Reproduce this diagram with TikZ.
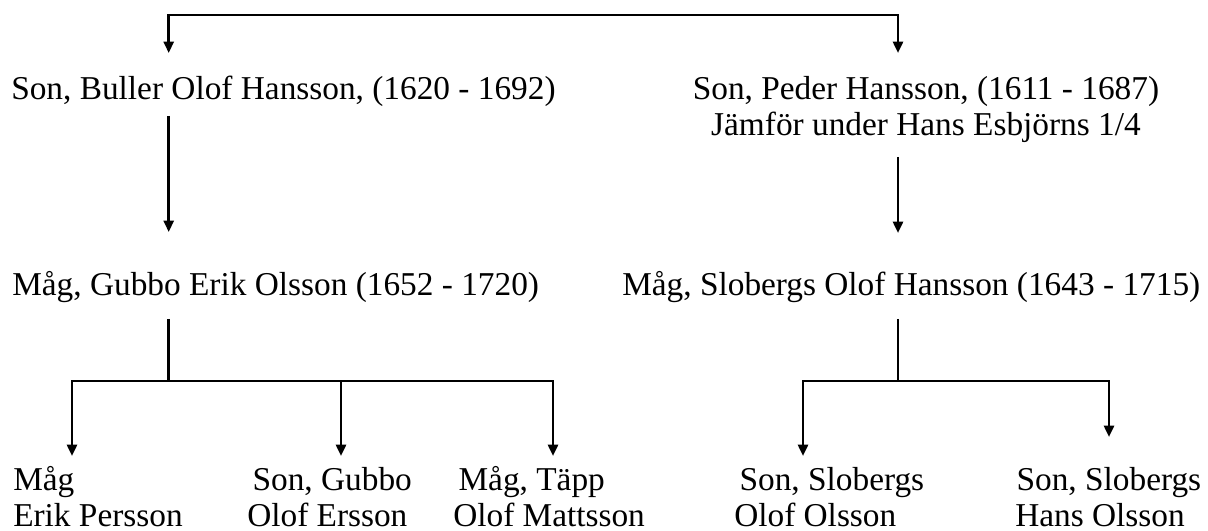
\documentclass[tikz,border=0pt]{standalone}
\usepackage{fontspec}
\setmainfont{Liberation Serif}
\usetikzlibrary{arrows.meta}

\begin{document}
\begin{tikzpicture}[x=0.75pt,y=0.75pt,yscale=-1,xscale=1,
  link/.style={line width=1.9pt},
  arr/.style={link,-{Triangle[width=7.5pt,length=8.5pt]}},
  twoarr/.style={link,{Triangle[width=7.5pt,length=8.5pt]}-{Triangle[width=7.5pt,length=8.5pt]}},
  person/.style={inner sep=0pt,font=\fontsize{25}{27}\selectfont}]
\useasboundingbox (0,0) rectangle (1208,531);

% Text Node
\draw (11,100) node [person,anchor=base west] (buller) {Son, Buller Olof Hansson, (1620 - 1692)};
% Text Node
\draw (926,136) node [person,anchor=base,align=center] (peder) {Son, Peder Hansson, (1611 - 1687)\\Jämför under Hans Esbjörns 1/4};
% Text Node
\draw (12,296) node [person,anchor=base west] (gubbo) {Måg, Gubbo Erik Olsson (1652 - 1720)};
% Text Node
\draw (622,296) node [person,anchor=base west] (slobergs) {Måg, Slobergs Olof Hansson (1643 - 1715)};
% Text Node
\draw (13,526) node [person,anchor=base west,align=left] (erik) {Måg\\Erik Persson};
% Text Node
\draw (247,526) node [person,anchor=base west,align=left] (ersson) {\hspace*{4pt}Son, Gubbo\\Olof Ersson};
% Text Node
\draw (453,526) node [person,anchor=base west,align=left] (mattsson) {\hspace*{4pt}Måg, Täpp\\Olof Mattsson};
% Text Node
\draw (734,526) node [person,anchor=base west,align=left] (olof) {\hspace*{4pt}Son, Slobergs\\Olof Olsson};
% Text Node
\draw (1015,526) node [person,anchor=base west,align=left] (hans) {\hspace*{1pt}Son, Slobergs\\Hans Olsson};

%Straight Lines
\coordinate (bullerIn) at (168.7,53);
\coordinate (pederIn) at (898,53);
\coordinate (topBar) at (533,15);
\draw [twoarr] (bullerIn) |- (topBar) -| (pederIn);
%Straight Lines
\coordinate (bullerOut) at (168.7,116);
\coordinate (gubboIn) at (168.7,232);
\draw [arr] (bullerOut) -- (gubboIn);
%Straight Lines
\coordinate (pederOut) at (898,157);
\coordinate (slobergsIn) at (898,233);
\draw [arr] (pederOut) -- (slobergsIn);

%Straight Lines
\coordinate (gubboOut) at (168.7,319);
\coordinate (gubboBar) at (168.7,381);
\coordinate (erikIn) at (72,456);
\coordinate (erssonIn) at (341,456);
\coordinate (mattssonIn) at (553,456);
\draw [link] (gubboOut) -- (gubboBar);
\draw [twoarr] (erikIn) |- (gubboBar) -| (mattssonIn);
\draw [arr] (gubboBar -| erssonIn) -- (erssonIn);

%Straight Lines
\coordinate (slobergsOut) at (898,319);
\coordinate (slobergsBar) at (898,381);
\coordinate (olofIn) at (803,456);
\coordinate (hansIn) at (1109,437);
\draw [link] (slobergsOut) -- (slobergsBar);
\draw [twoarr] (olofIn) |- (slobergsBar) -| (hansIn);

\end{tikzpicture}
\end{document}
